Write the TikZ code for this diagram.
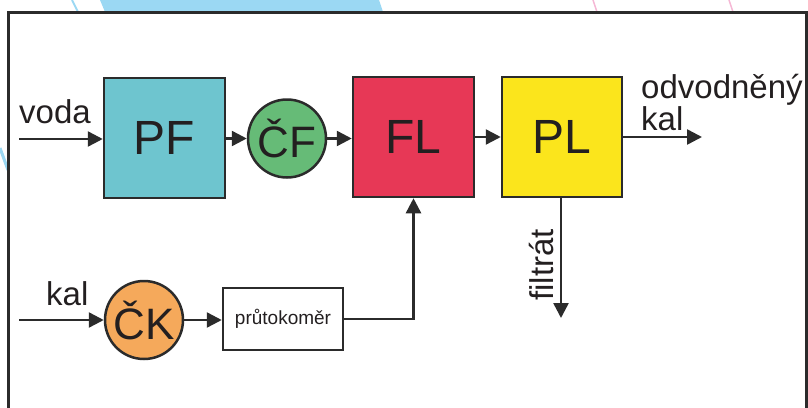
\documentclass[tikz,border=0pt]{standalone}
\usepackage{fontspec}
\setmainfont{Liberation Sans}
\usetikzlibrary{arrows.meta}
\definecolor{ink}{HTML}{2B2B2B}
\definecolor{txt}{HTML}{231F20}
\definecolor{cpf}{HTML}{6EC5CF}
\definecolor{ccf}{HTML}{66BB77}
\definecolor{cfl}{HTML}{E73856}
\definecolor{cpl}{HTML}{FBE51C}
\definecolor{cck}{HTML}{F5A95B}
\definecolor{bgblue}{HTML}{9BD8F3}
\definecolor{bgpink}{HTML}{F5B8D5}
\tikzset{
  blk/.style={draw=ink, line width=2.5pt, minimum width=121pt, minimum height=120pt, inner sep=0pt, font=\fontsize{48}{56}\selectfont, text=txt},
  circ/.style={circle, draw=ink, line width=2.5pt, minimum size=78pt, inner sep=0pt, font=\fontsize{44}{52}\selectfont, text=txt},
  lbl/.style={inner sep=0pt, font=\fontsize{33}{40}\selectfont, text=txt},
  conn/.style={draw=ink, line width=2.5pt, -{Triangle[length=15pt,width=15pt]}},
  plain/.style={draw=ink, line width=2.5pt}
}
\begin{document}
\begin{tikzpicture}[x=1pt,y=-1pt]
\useasboundingbox (0,0) rectangle (808,407);
% background decorations
\fill[bgblue] (100,0) -- (379,0) -- (383,12) -- (105,12) -- cycle;
\draw[bgblue, line width=2pt] (72,0) -- (78,12);
\draw[bgblue, line width=3pt] (0,148) -- (8,170);
\draw[bgpink, line width=1.5pt] (593,0) -- (597,12);
\draw[bgpink, line width=1.5pt] (729,0) -- (733,12);
% frame
\draw[ink, line width=3pt] (8,420) -- (8,12.5) -- (806,12.5) -- (806,420);
% nodes
\node[blk, fill=cpf] (PF) at (164.5,138) {PF};
\node[circ, fill=ccf] (CF) at (287,138.5) {ČF};
\node[blk, fill=cfl] (FL) at (413.5,137) {FL};
\node[blk, fill=cpl, minimum width=120pt] (PL) at (562,137) {PL};
\node[circ, fill=cck] (CK) at (144,320) {ČK};
\node[draw=ink, line width=2.5pt, minimum width=120pt, minimum height=62pt, inner sep=0pt, font=\fontsize{19}{23}\selectfont, text=txt] (prut) at (283,319) {průtokoměr};
% free ends
\coordinate (vin) at (19,139);
\coordinate (kin) at (19,320);
\coordinate (filt) at (561,318);
\coordinate (out) at (702,137);
% connectors
\draw[conn] (vin) -- (vin -| PF.west);
\draw[conn] (PF.east |- CF) -- (CF.west);
\draw[conn] (CF.east) -- (CF.east -| FL.west);
\draw[conn] (FL.east) -- (PL.west);
\draw[conn] (PL.east) -- (out);
\draw[conn] (kin) -- (CK.west);
\draw[conn] (CK.east) -- (CK.east -| prut.west);
\draw[conn] (prut.east) -| (FL.south);
\draw[conn] (PL.south -| filt) -- (filt);
% labels
\node[lbl, anchor=base west] (tvoda) at (19,123) {voda};
\node[lbl, anchor=base west] (tkal) at (46,305) {kal};
\node[lbl, anchor=base west] (todv) at (641,98) {odvodněný};
\node[lbl, anchor=base west] (tkal2) at (641,130) {kal};
\node[lbl, anchor=base west, rotate=90] (tfilt) at (553,301) {filtrát};
\end{tikzpicture}
\end{document}
